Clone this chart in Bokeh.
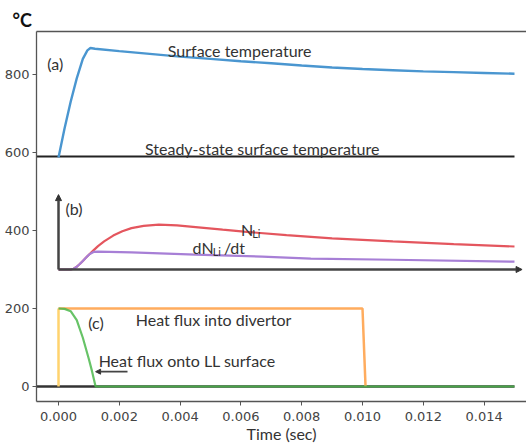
from bokeh.plotting import figure
from bokeh.models import Range1d, Label, Arrow, NormalHead, LinearAxis, FixedTicker, PrintfTickFormatter
from bokeh.embed import file_html
from bokeh.resources import INLINE

# ---- data ----
t_surf = [0, 0.0002, 0.0004, 0.0006, 0.0008, 0.00095, 0.00105, 0.0012, 0.002, 0.003, 0.004,
          0.005, 0.006, 0.007, 0.008, 0.009, 0.010, 0.011, 0.012, 0.013, 0.014, 0.015]
surf_temp = [587, 662, 730, 790, 840, 862, 868, 866, 860, 853, 846,
             840, 834, 829, 823, 818, 814, 811, 808, 806, 804, 802]
steady_temp = 590
t_steady = [-0.00072, 0.015]

t_nli = [0, 0.0004, 0.0005, 0.0006, 0.0007, 0.0008, 0.0009, 0.001, 0.00115, 0.0013, 0.0015,
         0.0018, 0.0021, 0.0024, 0.0028, 0.0033, 0.0039, 0.0046, 0.0054, 0.0061, 0.0075,
         0.009, 0.011, 0.013, 0.015]
n_li = [300, 300, 302, 307, 314, 322, 330, 338, 349, 360, 372,
        387, 398, 406, 412, 415, 413, 408, 402, 397, 388,
        380, 372, 365, 359]
t_dnli = [0, 0.0004, 0.0005, 0.0006, 0.0007, 0.0008, 0.0009, 0.001, 0.00115, 0.0013,
          0.0024, 0.0045, 0.0067, 0.0083, 0.011, 0.015]
dn_li = [300, 300, 302, 307, 314, 322, 330, 338, 345, 346,
         344, 338, 333, 328, 325, 320]
b_axis_base = 300
b_axis_top = 492
b_axis_tend = 0.01525

t_div = [0.0, 0.010, 0.0101]
q_div = [200, 200, 0]
t_ll = [0, 0.0002, 0.0004, 0.0006, 0.0008, 0.001, 0.0011, 0.00122, 0.015]
q_ll = [200, 199, 193, 170, 125, 70, 40, 0, 0]
t_zero = [-0.00072, 0.015]
arrow_ll = (0.00227, 0.00122, 38)

x_ticks = [0, 0.002, 0.004, 0.006, 0.008, 0.010, 0.012, 0.014]
y_ticks = [0, 200, 400, 600, 800]

X0, X1 = -0.000724, 0.015395
Y0, Y1 = -38.5, 910.3

FONT = "Lato"
AX = "#555555"

p = figure(width=526, height=446, output_backend="svg", toolbar_location=None,
           x_range=Range1d(X0, X1), y_range=Range1d(Y0, Y1),
           min_border_left=36, min_border_right=0, min_border_top=31, min_border_bottom=45,
           title="°C")
p.title.align = "left"
p.title.offset = -24
p.title.standoff = 2
p.title.text_font = FONT
p.title.text_font_size = "18px"
p.title.text_font_style = "bold"
p.title.text_color = "#111111"
p.outline_line_color = None
p.grid.visible = False
p.background_fill_color = "white"
p.border_fill_color = "white"

for ax in (p.xaxis[0], p.yaxis[0]):
    ax.axis_line_color = AX
    ax.axis_line_width = 1.3
    ax.major_tick_line_color = AX
    ax.major_tick_in = 0
    ax.major_tick_out = 4
    ax.minor_tick_line_color = None
    ax.major_label_text_font = "DejaVu Sans"
    ax.major_label_text_font_size = "13px"
    ax.major_label_text_color = "#444444"
    ax.major_label_standoff = 3
p.xaxis.major_label_standoff = 6

p.xaxis.ticker = FixedTicker(ticks=x_ticks)
p.xaxis.formatter = PrintfTickFormatter(format="%.3f")
p.yaxis.ticker = FixedTicker(ticks=y_ticks)
p.xaxis.axis_label = "Time (sec)"
p.xaxis.axis_label_text_font = FONT
p.xaxis.axis_label_text_font_style = "normal"
p.xaxis.axis_label_text_font_size = "16px"
p.xaxis.axis_label_text_color = "#333333"
p.xaxis.axis_label_standoff = 0

top = LinearAxis(ticker=FixedTicker(ticks=[]), axis_line_color=AX, axis_line_width=1.3,
                 major_tick_line_color=None, minor_tick_line_color=None,
                 major_label_text_font_size="0px")
p.add_layout(top, "above")

# panel (a)
p.line(t_steady, [steady_temp, steady_temp], line_color="#222222", line_width=2)
p.line(t_surf, surf_temp, line_color="#4a96d0", line_width=2.4)

# panel (b)
p.line(t_nli, n_li, line_color="#e4565e", line_width=2.2)
p.line(t_dnli, dn_li, line_color="#a77fd6", line_width=2.2)
p.add_layout(Arrow(end=NormalHead(size=6, fill_color="#333333", line_color="#333333"),
                   x_start=0, y_start=b_axis_base, x_end=0, y_end=b_axis_top,
                   line_color="#444444", line_width=2.5))
p.add_layout(Arrow(end=NormalHead(size=6, fill_color="#333333", line_color="#333333"),
                   x_start=0, y_start=b_axis_base, x_end=b_axis_tend, y_end=b_axis_base,
                   line_color="#444444", line_width=2.5))

# panel (c)
p.line(t_zero, [0, 0], line_color="#333333", line_width=2.5)
p.line([t_div[0], t_div[0]], [0, q_div[0]], line_color="#ffd36e", line_width=2.5)
p.line(t_div, q_div, line_color="#ffac5e", line_width=2.5)
p.line(t_ll, q_ll, line_color="#4cb84c", line_width=2.2, line_alpha=0.85)
p.add_layout(Arrow(end=NormalHead(size=5, fill_color="#333333", line_color="#333333"),
                   x_start=arrow_ll[0], y_start=arrow_ll[2], x_end=arrow_ll[1], y_end=arrow_ll[2],
                   line_color="#444444", line_width=1.8))

def lab(x, y, text, size="16px", align="left", color="#333333", style="normal"):
    p.add_layout(Label(x=x, y=y, text=text, text_font=FONT, text_font_size=size,
                       text_align=align, text_baseline="middle", text_color=color,
                       text_font_style=style))

lab(-0.00037, 828, "(a)")
lab(0.00596, 862, "Surface temperature", align="center")
lab(0.0067, 610, "Steady-state surface temperature", align="center")
lab(0.00023, 456, "(b)")
lab(0.0060, 403, "N")
lab(0.00637, 393, "Li", size="11px")
lab(0.00441, 356, "dN")
lab(0.00507, 346, "Li", size="11px")
lab(0.00544, 356, "/dt")
lab(0.00098, 164, "(c)")
lab(0.00254, 172, "Heat flux into divertor")
lab(0.00132, 67, "Heat flux onto LL surface")

open("out.html", "w").write(file_html(p, INLINE))
